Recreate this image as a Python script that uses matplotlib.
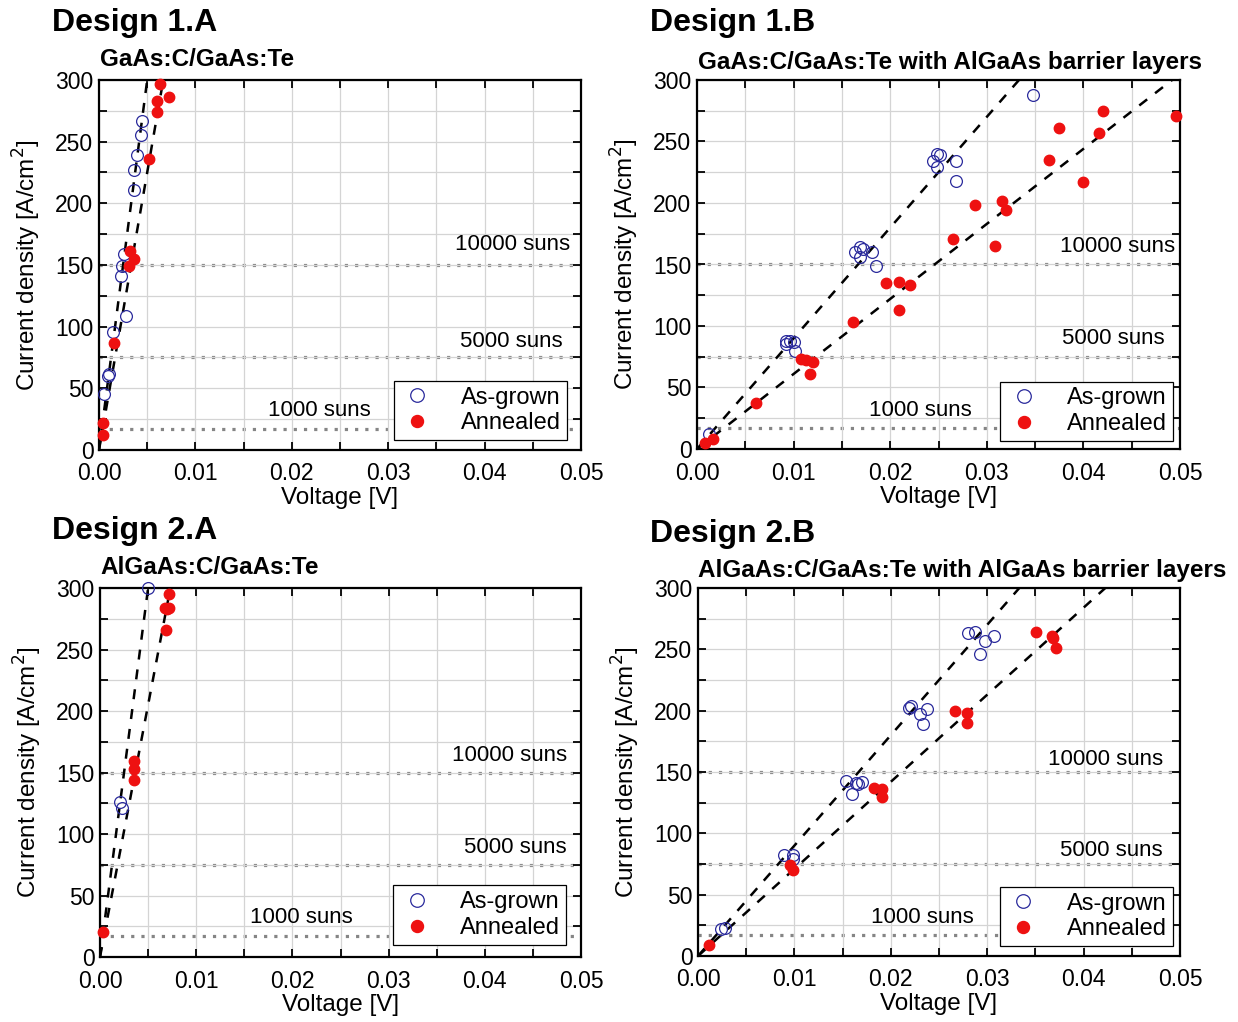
import numpy as np
import matplotlib.pyplot as plt
from matplotlib.ticker import MultipleLocator

plt.rcParams['font.family'] = ['Liberation Sans', 'DejaVu Sans']

# --- data ---
# Design 1.A  GaAs:C/GaAs:Te
v_1a_grown = [0.00441, 0.00435, 0.00399, 0.00365, 0.00365, 0.00261, 0.00243, 0.00226,
              0.00285, 0.00146, 0.00104, 0.00094, 0.00052]
j_1a_grown = [267, 255, 239, 227, 211, 159, 149, 141, 109, 96, 62, 60, 45]
v_1a_ann = [0.00632, 0.00722, 0.00597, 0.00597, 0.00521, 0.00319, 0.00358, 0.00312,
            0.00156, 0.00042, 0.00042]
j_1a_ann = [297, 286, 283, 274, 236, 161, 155, 149, 87, 22, 12]

# Design 1.B  GaAs:C/GaAs:Te with AlGaAs barrier layers
v_1b_grown = [0.0348, 0.0244, 0.0248, 0.0252, 0.0248, 0.0268, 0.0268, 0.0164, 0.0169,
              0.0172, 0.0169, 0.0181, 0.0185, 0.0092, 0.0096, 0.0100, 0.0092, 0.0101, 0.0012]
j_1b_grown = [288, 234, 240, 239, 229, 234, 218, 160, 164, 163, 156, 160, 149, 88, 88,
              87, 85, 80, 12]
v_1b_ann = [0.0496, 0.0420, 0.0416, 0.0375, 0.0364, 0.0400, 0.0316, 0.0320, 0.0288,
            0.0265, 0.0308, 0.0196, 0.0209, 0.0221, 0.0209, 0.0161, 0.0108, 0.0113,
            0.0120, 0.0117, 0.0061, 0.0017, 0.0008]
j_1b_ann = [271, 275, 257, 261, 235, 217, 202, 194, 198, 171, 165, 135, 136, 133, 113,
            103, 73, 72, 71, 61, 37, 8, 5]

# Design 2.A  AlGaAs:C/GaAs:Te
v_2a_grown = [0.00503, 0.00208, 0.00226]
j_2a_grown = [300, 126, 121]
v_2a_ann = [0.00722, 0.00677, 0.00722, 0.00700, 0.00688, 0.00358, 0.00358, 0.00358, 0.00035]
j_2a_ann = [295, 284, 284, 283, 266, 159, 153, 144, 20]

# Design 2.B  AlGaAs:C/GaAs:Te with AlGaAs barrier layers
v_2b_grown = [0.0280, 0.0287, 0.0298, 0.0307, 0.0293, 0.0219, 0.0221, 0.0230, 0.0238,
              0.0233, 0.0154, 0.0166, 0.0170, 0.0160, 0.0164, 0.0089, 0.0099, 0.0099,
              0.0024, 0.0028]
j_2b_grown = [263, 264, 257, 261, 246, 202, 204, 197, 201, 189, 143, 140, 142, 132, 141,
              82, 82, 79, 22, 23]
v_2b_ann = [0.0351, 0.0367, 0.0368, 0.0371, 0.0267, 0.0279, 0.0279, 0.0183, 0.0191,
            0.0191, 0.0095, 0.0099, 0.0011]
j_2b_ann = [264, 261, 259, 251, 200, 198, 190, 137, 136, 130, 74, 70, 9]

# slopes of the dashed fit lines [A/cm^2 per V]: as-grown, annealed
slopes_1a = [60000, 45000]
slopes_1b = [9000, 6100]
slopes_2a = [60000, 41000]
slopes_2b = [9000, 7100]

suns_levels = [150, 75, 17]
suns_labels = ["10000 suns", "5000 suns", "1000 suns"]

designs = ["Design 1.A", "Design 1.B", "Design 2.A", "Design 2.B"]
subtitles = ["GaAs:C/GaAs:Te",
             "GaAs:C/GaAs:Te with AlGaAs barrier layers",
             "AlGaAs:C/GaAs:Te",
             "AlGaAs:C/GaAs:Te with AlGaAs barrier layers"]

# --- layout ---
W, H = 1238, 1022
fig = plt.figure(figsize=(W / 100, H / 100), dpi=100)


def px_axes(l, t, r, b):
    return fig.add_axes([l / W, 1 - b / H, (r - l) / W, (b - t) / H])


axes = [px_axes(99, 80, 581, 450), px_axes(697, 80, 1180, 449),
        px_axes(100, 588, 581, 957), px_axes(698, 588, 1180, 956)]
title_pos = [(52, 23), (650, 23), (52, 531), (650, 534)]
sub_pos = [(100, 59), (698, 63), (100, 568), (698, 570)]
# label positions: (x of 10000 right end, y), (x of 5000 right end, y), (x center of 1000, y)
lab_pos = [[(0.0489, 167), (0.0481, 88), (0.0229, 32)],
           [(0.0495, 165), (0.0484, 90), (0.0231, 31)],
           [(0.0486, 164), (0.0485, 89), (0.0209, 32)],
           [(0.0483, 160), (0.0482, 86), (0.0233, 31)]]
leg_anchor = [(0.971, 0.027), (0.986, 0.022), (0.969, 0.033), (0.985, 0.027)]

data = [(v_1a_grown, j_1a_grown, v_1a_ann, j_1a_ann, slopes_1a),
        (v_1b_grown, j_1b_grown, v_1b_ann, j_1b_ann, slopes_1b),
        (v_2a_grown, j_2a_grown, v_2a_ann, j_2a_ann, slopes_2a),
        (v_2b_grown, j_2b_grown, v_2b_ann, j_2b_ann, slopes_2b)]

xfit = np.array([0.0, 0.05])

for i, ax in enumerate(axes):
    vg, jg, va, ja, sl = data[i]

    ax.set_xlim(0, 0.05)
    ax.set_ylim(0, 300)
    ax.xaxis.set_major_locator(MultipleLocator(0.01))
    ax.xaxis.set_minor_locator(MultipleLocator(0.005))
    ax.yaxis.set_major_locator(MultipleLocator(50))
    ax.yaxis.set_minor_locator(MultipleLocator(25))
    ax.xaxis.set_major_formatter(plt.FormatStrFormatter('%.2f'))
    ax.grid(True, which='both', color='#d4d4d4', lw=0.9, zorder=0)
    ax.tick_params(which='both', direction='in', top=True, right=True,
                   length=6, width=1.3, labelsize=16.5)
    ax.tick_params(axis='x', pad=9)
    ax.tick_params(axis='y', pad=4)
    for s in ax.spines.values():
        s.set_linewidth(1.6)

    for lev in suns_levels:
        ax.axhline(lev, color='#858585', ls=(0, (1, 2.2)), lw=2.3, zorder=1)

    ax.plot(xfit, sl[0] * xfit, ls=(0, (4, 4)), color='black', lw=1.8, zorder=2)
    ax.plot(xfit, sl[1] * xfit, ls=(0, (4, 4)), color='black', lw=1.8, zorder=2)

    ax.plot(vg, jg, 'o', mfc='none', mec='#2a2a9c', mew=0.9, ms=8.5,
            label='As-grown', zorder=3, clip_on=False)
    ax.plot(va, ja, 'o', mfc='#ee1111', mec='#ee1111', ms=7.5,
            label='Annealed', zorder=3, clip_on=False)

    lp = lab_pos[i]
    ax.text(lp[0][0], lp[0][1], suns_labels[0], ha='right', va='center', fontsize=16)
    ax.text(lp[1][0], lp[1][1], suns_labels[1], ha='right', va='center', fontsize=16)
    ax.text(lp[2][0], lp[2][1], suns_labels[2], ha='center', va='center', fontsize=16)

    leg = ax.legend(loc='lower right', bbox_to_anchor=leg_anchor[i], fontsize=17,
                    fancybox=False, edgecolor='black', framealpha=1,
                    handletextpad=1.1, handlelength=1.5, borderpad=0.25,
                    labelspacing=0.15, markerscale=1.15, borderaxespad=0)
    leg.get_frame().set_linewidth(0.9)

    ax.set_xlabel('Voltage [V]', fontsize=17.5, labelpad=1)
    ax.set_ylabel('Current density [A/cm$^2$]', fontsize=17.5, labelpad=9)

    tx, ty = title_pos[i]
    fig.text(tx / W, 1 - ty / H, designs[i], fontsize=23, fontweight='bold',
             ha='left', va='center')
    sx, sy = sub_pos[i]
    fig.text(sx / W, 1 - sy / H, subtitles[i], fontsize=17.5, fontweight='bold',
             ha='left', va='center')

fig.savefig('out.png', dpi=100)
